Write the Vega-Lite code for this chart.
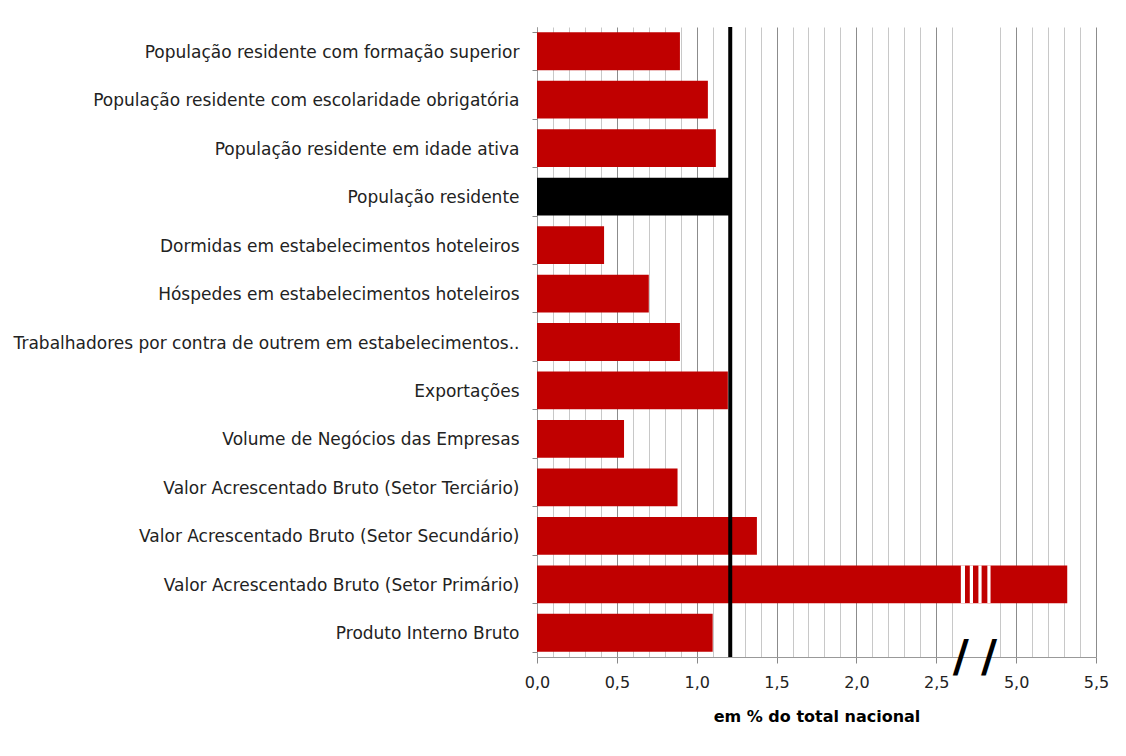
{
  "$schema": "https://vega.github.io/schema/vega-lite/v6.json",
  "autosize": {"type": "none"},
  "width": 559,
  "height": 630,
  "padding": {"left": 537, "top": 27, "right": 30, "bottom": 99},
  "background": "white",
  "config": {
    "font": "DejaVu Sans",
    "view": {"stroke": null},
    "axis": {"labelFont": "DejaVu Sans", "titleFont": "DejaVu Sans"}
  },
  "datasets": {
    "main": [
      {"cat": "População residente com formação superior", "value": 0.895},
      {"cat": "População residente com escolaridade obrigatória", "value": 1.07},
      {"cat": "População residente em idade ativa", "value": 1.12},
      {"cat": "População residente", "value": 1.21},
      {"cat": "Dormidas em estabelecimentos hoteleiros", "value": 0.42},
      {"cat": "Hóspedes em estabelecimentos hoteleiros", "value": 0.70},
      {"cat": "Trabalhadores por contra de outrem em estabelecimentos..", "value": 0.895},
      {"cat": "Exportações", "value": 1.195},
      {"cat": "Volume de Negócios das Empresas", "value": 0.545},
      {"cat": "Valor Acrescentado Bruto (Setor Terciário)", "value": 0.88},
      {"cat": "Valor Acrescentado Bruto (Setor Secundário)", "value": 1.377},
      {"cat": "Valor Acrescentado Bruto (Setor Primário)", "value": 5.32},
      {"cat": "Produto Interno Bruto", "value": 1.10}
    ],
    "stripes": [
      {"cat": "Valor Acrescentado Bruto (Setor Primário)", "value": 3.27, "end": 3.40},
      {"cat": "Valor Acrescentado Bruto (Setor Primário)", "value": 3.55, "end": 3.65},
      {"cat": "Valor Acrescentado Bruto (Setor Primário)", "value": 3.82, "end": 3.92},
      {"cat": "Valor Acrescentado Bruto (Setor Primário)", "value": 4.10, "end": 4.20}
    ],
    "breaks": [
      {"cat": "Produto Interno Bruto", "value": 3.27, "mark": "/"},
      {"cat": "Produto Interno Bruto", "value": 4.15, "mark": "/"}
    ]
  },
  "encoding": {
    "y": {
      "field": "cat",
      "type": "nominal",
      "sort": null,
      "scale": {
        "domain": [
          "População residente com formação superior",
          "População residente com escolaridade obrigatória",
          "População residente em idade ativa",
          "População residente",
          "Dormidas em estabelecimentos hoteleiros",
          "Hóspedes em estabelecimentos hoteleiros",
          "Trabalhadores por contra de outrem em estabelecimentos..",
          "Exportações",
          "Volume de Negócios das Empresas",
          "Valor Acrescentado Bruto (Setor Terciário)",
          "Valor Acrescentado Bruto (Setor Secundário)",
          "Valor Acrescentado Bruto (Setor Primário)",
          "Produto Interno Bruto"
        ],
        "paddingInner": 0.22,
        "paddingOuter": 0.11
      },
      "axis": {
        "title": null,
        "tickBand": "extent",
        "tickSize": 5,
        "tickColor": "#888888",
        "domainColor": "#999999",
        "labelFontSize": 17,
        "labelColor": "#222222",
        "labelPadding": 13,
        "labelLimit": 600,
        "labelOffset": 1,
        "grid": false
      }
    },
    "x": {
      "field": "value",
      "type": "quantitative",
      "scale": {"domain": [0, 2.5, 5.0, 5.5], "range": [0, 399.25, 479.1, 559], "nice": false, "zero": false},
      "axis": {
        "title": "em % do total nacional",
        "titleFontSize": 16,
        "titleFontWeight": "bold",
        "titleColor": "#000000",
        "titlePadding": 18,
        "values": [0, 0.1, 0.2, 0.3, 0.4, 0.5, 0.6, 0.7, 0.8, 0.9, 1.0, 1.1, 1.2, 1.3, 1.4, 1.5, 1.6, 1.7, 1.8, 1.9, 2.0, 2.1, 2.2, 2.3, 2.4, 2.5, 3.0, 4.5, 5.0, 5.1, 5.2, 5.3, 5.4, 5.5],
        "labelExpr": "(abs(round(datum.value*10) % 5) == 0 && (datum.value <= 2.5 || datum.value >= 5)) ? replace(format(datum.value, '.1f'), '.', ',') : ''",
        "labelFontSize": 16,
        "labelColor": "#222222",
        "labelPadding": 11,
        "labelOverlap": false,
        "labelFlush": false,
        "grid": true,
        "gridColor": {"condition": {"test": "abs(round(datum.value*10) % 5) == 0 && (datum.value <= 2.5 || datum.value >= 5)", "value": "#8c8c8c"}, "value": "#c8c8c8"},
        "gridWidth": 1,
        "gridOpacity": 1,
        "tickColor": "#888888",
        "tickSize": 6,
        "tickOpacity": {"condition": {"test": "abs(round(datum.value*10) % 5) == 0 && (datum.value <= 2.5 || datum.value >= 5)", "value": 1}, "value": 0},
        "domainColor": "#999999"
      }
    }
  },
  "layer": [
    {
      "data": {"name": "main"},
      "mark": {"type": "bar"},
      "encoding": {
        "color": {
          "condition": {"test": "datum.cat == 'População residente'", "value": "#000000"},
          "value": "#C00000"
        }
      }
    },
    {
      "data": {"name": "stripes"},
      "mark": {"type": "bar", "color": "white"},
      "encoding": {
        "x2": {"field": "end"}
      }
    },
    {
      "data": {"name": "main"},
      "transform": [{"filter": "datum.cat == 'População residente'"}],
      "mark": {"type": "rule", "color": "#000000", "strokeWidth": 4},
      "encoding": {
        "y": null
      }
    },
    {
      "data": {"name": "breaks"},
      "mark": {"type": "text", "fontSize": 44, "fontWeight": "bold", "dy": 26, "baseline": "middle", "align": "center", "color": "#000000"},
      "encoding": {
        "text": {"field": "mark"}
      }
    }
  ]
}
